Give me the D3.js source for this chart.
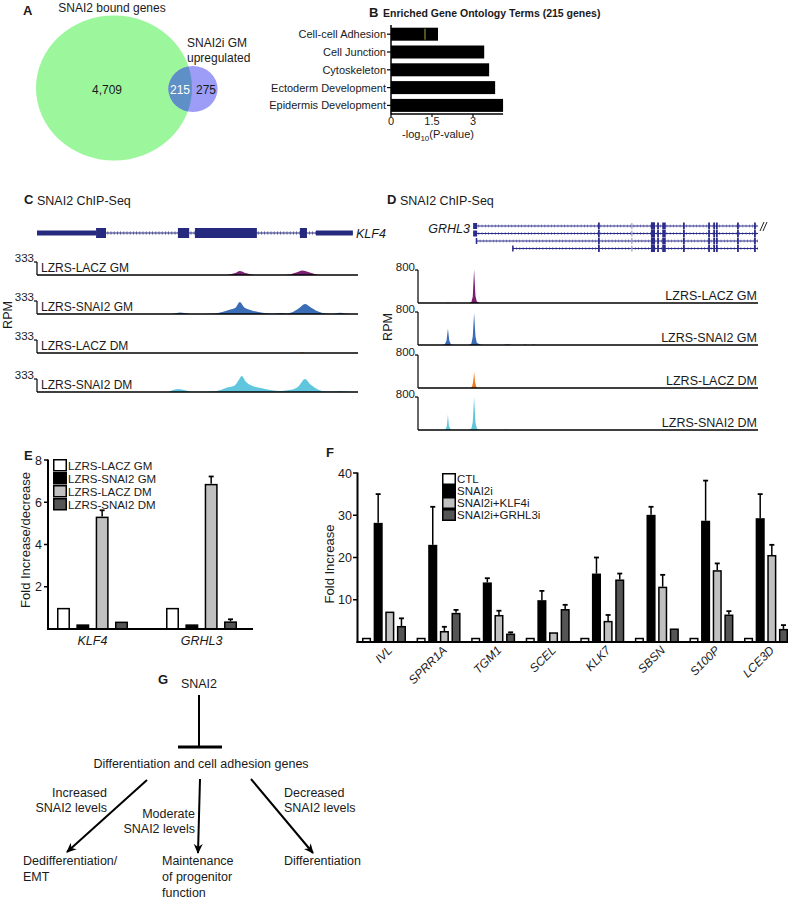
<!DOCTYPE html>
<html><head><meta charset="utf-8">
<script src="https://cdn.jsdelivr.net/npm/d3@7"></script>
<style>
body{margin:0;background:#fff}
svg{display:block}
text{font-family:"Liberation Sans",Arial,Helvetica,sans-serif;fill:#1a1a1a}
</style></head>
<body><svg id="c" width="795" height="900"></svg>
<script>
// ---------------- DATA ----------------
const vennLabels = ["SNAI2 bound genes", "SNAI2i GM", "upregulated"];
const vennCounts = [4709, 215, 275]; // only bound, both, only upregulated

const goTerms = ["Cell-cell Adhesion", "Cell Junction", "Cytoskeleton", "Ectoderm Development", "Epidermis Development"];
const goValues = [1.72, 3.41, 3.59, 3.81, 4.10];
const goTicks = [0, 1.5, 3];

const trackNames = ["LZRS-LACZ GM", "LZRS-SNAI2 GM", "LZRS-LACZ DM", "LZRS-SNAI2 DM"];
const trackColors = ["#7b1f72", "#3b6db6", "#f07b1f", "#5fc6de"];

// KLF4 locus (genomic position 0..1000), RPM signal points [pos, rpm]
const klf4Utr = [[0, 184], [869, 984]];
const klf4Exons = [[184, 215], [439, 474], [492, 685], [819, 841]];
const klf4Max = 333;
const klf4LaczGM = [[0,0],[580,0],[600,15],[618,50],[632,100],[646,60],[665,20],[685,0],[770,0],[790,20],[810,70],[826,115],[845,75],[865,25],[885,0],[1000,0]];
const klf4Snai2GM = [[0,0],[420,0],[435,25],[445,38],[460,25],[478,0],[520,0],[555,10],[580,55],[600,110],[618,160],[632,307],[645,175],[665,105],[690,50],[715,20],[735,8],[750,22],[765,28],[780,15],[795,45],[815,140],[835,256],[852,175],[870,85],[890,25],[910,5],[930,15],[945,32],[960,12],[980,0],[1000,0]];
const klf4LaczDM = [[0,0],[818,0],[826,18],[834,0],[1000,0]];
const klf4Snai2DM = [[0,0],[405,0],[422,45],[438,77],[455,55],[475,15],[500,5],[540,12],[570,45],[595,120],[615,160],[628,300],[638,410],[650,270],[670,160],[700,95],[730,45],[760,28],[790,55],[815,150],[835,333],[852,190],[875,65],[900,15],[930,10],[945,28],[965,10],[985,0],[1000,0]];
const klf4Signals = [klf4LaczGM, klf4Snai2GM, klf4LaczDM, klf4Snai2DM];

// GRHL3 locus (genomic position 0..1000)
const grhl3Starts = [168, 168, 172, 279];
const grhl3End = 1000;
const grhl3Exons = [532, 688, 694, 706, 721, 726, 782, 856, 871, 879, 941, 991];
const grhl3AltExon = 629;
const grhl3Max = 800;
const grhl3LaczGM = [[0,0],[84,0],[88,10],[92,0],[150,0],[157,25],[161,150],[165,820],[169,170],[173,35],[181,0],[1000,0]];
const grhl3Snai2GM = [[0,0],[70,0],[79,20],[84,110],[88,400],[92,110],[97,15],[106,0],[150,0],[157,35],[161,200],[165,775],[169,210],[173,55],[182,10],[192,0],[252,0],[262,18],[272,6],[280,0],[308,0],[316,10],[322,0],[333,0],[340,12],[347,0],[1000,0]];
const grhl3LaczDM = [[0,0],[154,0],[159,35],[162,140],[165,390],[168,140],[171,35],[176,0],[1000,0]];
const grhl3Snai2DM = [[0,0],[74,0],[81,20],[85,95],[88,370],[91,95],[96,15],[102,0],[150,0],[157,35],[161,190],[165,800],[169,190],[173,35],[182,0],[250,0],[260,10],[270,0],[1000,0]];
const grhl3Signals = [grhl3LaczGM, grhl3Snai2GM, grhl3LaczDM, grhl3Snai2DM];

// Panel E
const eGenes = ["KLF4", "GRHL3"];
const eSeries = ["LZRS-LACZ GM", "LZRS-SNAI2 GM", "LZRS-LACZ DM", "LZRS-SNAI2 DM"];
const eValues = [[1.0, 0.22, 5.32, 0.35], [1.0, 0.22, 6.87, 0.36]];
const eErrors = [[0, 0, 0.3, 0], [0, 0, 0.35, 0.1]];
const eTicks = [2, 4, 6, 8];

// Panel F
const fGenes = ["IVL", "SPRR1A", "TGM1", "SCEL", "KLK7", "SBSN", "S100P", "LCE3D"];
const fSeries = ["CTL", "SNAI2i", "SNAI2i+KLF4i", "SNAI2i+GRHL3i"];
const fCTL = [1, 1, 1, 1, 1, 1, 1, 1];
const fSNAI2i = [28.2, 23.0, 14.1, 9.9, 16.2, 30.1, 28.7, 29.3];
const fKLF4i = [7.2, 2.6, 6.4, 2.3, 5.0, 13.1, 17.0, 20.6];
const fGRHL3i = [3.8, 6.9, 2.0, 7.8, 14.8, 3.2, 6.5, 3.1];
const fCTLErr = [0, 0, 0, 0, 0, 0, 0, 0];
const fSNAI2iErr = [6.8, 9.0, 1.0, 2.2, 3.8, 1.9, 9.5, 5.7];
const fKLF4iErr = [0, 1.0, 1.0, 0, 1.4, 2.8, 1.6, 2.4];
const fGRHL3iErr = [1.8, 0.7, 0.3, 1.0, 1.4, 0, 0.8, 0.9];
const fTicks = [10, 20, 30, 40];

const barFills = ["#ffffff", "#000000", "#c0c0c0", "#555555"];

// ---------------- DRAW ----------------
const svg = d3.select("#c");
const defs = svg.append("defs");

function label(g, x, y, s, o = {}) {
  const t = g.append("text").attr("x", x).attr("y", y).text(s)
    .attr("font-size", o.size || 12);
  if (o.anchor) t.attr("text-anchor", o.anchor);
  if (o.weight) t.attr("font-weight", o.weight);
  if (o.italic) t.attr("font-style", "italic");
  if (o.fill) t.style("fill", o.fill);
  if (o.rotate !== undefined) t.attr("transform", `rotate(${o.rotate},${x},${y})`);
  return t;
}
function line(g, x1, y1, x2, y2, w = 1, c = "#000") {
  return g.append("line").attr("x1", x1).attr("y1", y1).attr("x2", x2).attr("y2", y2)
    .attr("stroke", c).attr("stroke-width", w);
}

// ===== Panel A: Venn =====
(function () {
  const g = svg.append("g");
  const r = d3.scaleSqrt().domain([0, vennCounts[0] + vennCounts[1]]).range([0, 78]);
  const asp = 0.93;
  const rG = r(vennCounts[0] + vennCounts[1]), rB = r(vennCounts[1] + vennCounts[2]);
  const cG = [114, 88], cB = [193, 89];
  defs.append("clipPath").attr("id", "clipG").append("ellipse")
    .attr("cx", cG[0]).attr("cy", cG[1]).attr("rx", rG).attr("ry", rG * asp);
  g.append("ellipse").attr("cx", cG[0]).attr("cy", cG[1]).attr("rx", rG).attr("ry", rG * asp).attr("fill", "#9cf79c");
  g.append("ellipse").attr("cx", cB[0]).attr("cy", cB[1]).attr("rx", rB).attr("ry", rB * asp).attr("fill", "#9d9df8");
  g.append("ellipse").attr("cx", cB[0]).attr("cy", cB[1]).attr("rx", rB).attr("ry", rB * asp).attr("fill", "#5e8fc6").attr("clip-path", "url(#clipG)");
  const fmt = d3.format(",");
  label(g, 107, 94, fmt(vennCounts[0]), { anchor: "middle" });
  label(g, 180, 94, fmt(vennCounts[1]), { anchor: "middle", fill: "#fff" });
  label(g, 206, 94, fmt(vennCounts[2]), { anchor: "middle" });
  label(g, 23, 15, "A", { size: 13, weight: "bold" });
  label(g, 112, 12, vennLabels[0], { anchor: "middle" });
  label(g, 187, 47, vennLabels[1]);
  label(g, 187, 62, vennLabels[2]);
})();

// ===== Panel B: GO bars =====
(function () {
  const g = svg.append("g");
  const x = d3.scaleLinear().domain([0, 3]).range([391, 473]);
  const y = d3.scaleBand().domain(goTerms).range([27.7, 111.9]).paddingInner(0.27);
  label(g, 369, 17, "B", { size: 13, weight: "bold" });
  label(g, 383, 17, "Enriched Gene Ontology Terms (215 genes)", { size: 10.5, weight: "bold" });
  g.selectAll("rect.go").data(goTerms).join("rect")
    .attr("x", x(0)).attr("y", d => y(d)).attr("height", y.bandwidth())
    .attr("width", (d, i) => x(goValues[i]) - x(0)).attr("fill", "#000");
  line(g, x(0) + 34, y(goTerms[0]) + 1, x(0) + 34, y(goTerms[0]) + 12, 1, "#a8a830");
  line(g, x(0), 25, x(0), 114.5, 1.5);
  line(g, x(0), 114, x(4.1), 114, 1.5);
  goTerms.forEach(t => {
    const cy = y(t) + y.bandwidth() / 2;
    line(g, x(0) - 4, cy, x(0), cy, 1.2);
    label(g, x(0) - 5, cy + 4, t, { size: 11, anchor: "end" });
  });
  goTicks.forEach(t => {
    line(g, x(t), 114, x(t), 117, 1.2);
    label(g, x(t), 124.5, String(t), { size: 11, anchor: "middle" });
  });
  const tt = g.append("text").attr("x", 438).attr("y", 137.5).attr("text-anchor", "middle").attr("font-size", 11);
  tt.append("tspan").text("-log");
  tt.append("tspan").text("10").attr("font-size", 8).attr("dy", 3);
  tt.append("tspan").text("(P-value)").attr("dy", -3);
})();

// ===== Panel C: KLF4 ChIP tracks =====
(function () {
  const g = svg.append("g");
  const gc = "#262a7e";
  const x = d3.scaleLinear().domain([0, 1000]).range([37, 358]);
  label(g, 24, 204, "C", { size: 13, weight: "bold" });
  label(g, 37, 205, "SNAI2 ChIP-Seq", { size: 12.5 });
  const gy = 233;
  line(g, x(0), gy, x(984), gy, 1, gc);
  g.append("line").attr("x1", x(0)).attr("x2", x(984)).attr("y1", gy).attr("y2", gy)
    .attr("stroke", gc).attr("stroke-width", 3.5).attr("stroke-dasharray", "0.8,2.4").attr("opacity", 0.7);
  klf4Utr.forEach(u => g.append("rect").attr("x", x(u[0])).attr("width", x(u[1]) - x(u[0])).attr("y", gy - 2.5).attr("height", 5).attr("fill", gc));
  klf4Exons.forEach(u => g.append("rect").attr("x", x(u[0])).attr("width", x(u[1]) - x(u[0])).attr("y", gy - 5).attr("height", 10).attr("fill", gc));
  label(g, 356, 238, "KLF4", { size: 12.5, italic: true });

  const baselines = [275, 314, 353, 392];
  const H = 13;
  klf4Signals.forEach((sig, i) => {
    const b = baselines[i];
    const y = d3.scaleLinear().domain([0, klf4Max]).range([b, b - H]);
    const area = d3.area().x(d => x(d[0])).y0(b).y1(d => y(d[1])).curve(d3.curveMonotoneX);
    g.append("path").datum(sig).attr("d", area).attr("fill", trackColors[i]);
    line(g, x(0), y(klf4Max), x(0), b, 1.2);
    line(g, x(0) - 3, y(klf4Max), x(0), y(klf4Max), 1.2);
    line(g, x(0), b, x(1000), b, 1.3);
    label(g, x(0) - 3, y(klf4Max), String(klf4Max), { size: 11.5, anchor: "end" });
    label(g, 41, b - 3, trackNames[i], { size: 12 });
  });
  label(g, 12, 315, "RPM", { size: 12.5, anchor: "middle", rotate: -90 });
})();

// ===== Panel D: GRHL3 ChIP tracks =====
(function () {
  const g = svg.append("g");
  const gc = "#2b2b8c";
  const x = d3.scaleLinear().domain([0, 1000]).range([418, 758]);
  label(g, 387, 204, "D", { size: 13, weight: "bold" });
  label(g, 400, 205, "SNAI2 ChIP-Seq", { size: 12.5 });
  label(g, 470, 233, "GRHL3", { size: 12.5, italic: true, anchor: "end" });
  const ty = [226, 233.5, 241, 248.5];
  grhl3Starts.forEach((s, i) => {
    const yy = ty[i];
    line(g, x(s), yy, x(grhl3End), yy, 1, gc);
    g.append("line").attr("x1", x(s)).attr("x2", x(grhl3End)).attr("y1", yy).attr("y2", yy)
      .attr("stroke", gc).attr("stroke-width", 3).attr("stroke-dasharray", "0.7,2.6").attr("opacity", 0.6);
    if (i < 2) g.append("rect").attr("x", x(s) - 2).attr("y", yy - 3).attr("width", 4).attr("height", 6).attr("fill", gc);
    else line(g, x(s), yy - 3, x(s), yy + 3, 1.5, gc);
    grhl3Exons.filter(e => e > s).forEach(e => {
      g.append("rect").attr("x", x(e) - 0.9).attr("y", yy - 3.5).attr("width", 1.8).attr("height", 7).attr("fill", gc);
    });
    g.append("rect").attr("x", x(grhl3Exons[1]) - 1).attr("y", yy - 3.5).attr("width", x(grhl3Exons[2]) - x(grhl3Exons[1]) + 2).attr("height", 7).attr("fill", gc);
    g.append("rect").attr("x", x(grhl3AltExon) - 0.6).attr("y", yy - 3).attr("width", 1.2).attr("height", 6).attr("fill", "#a0a0d0");
  });
  line(g, x(1000) + 2, 231, x(1000) + 6, 222, 1, "#222");
  line(g, x(1000) + 5, 231, x(1000) + 9, 222, 1, "#222");

  const baselines = [303, 345, 388, 430];
  const H = 33;
  grhl3Signals.forEach((sig, i) => {
    const b = baselines[i];
    const y = d3.scaleLinear().domain([0, grhl3Max]).range([b, b - H]);
    const area = d3.area().x(d => x(d[0])).y0(b).y1(d => y(d[1])).curve(d3.curveLinear);
    g.append("path").datum(sig).attr("d", area).attr("fill", trackColors[i]);
    line(g, x(0), y(grhl3Max), x(0), b, 1.2);
    line(g, x(0) - 3, y(grhl3Max), x(0), y(grhl3Max), 1.2);
    line(g, x(0), b, x(1000), b, 1.3);
    label(g, x(0) - 3, y(grhl3Max) + 1, String(grhl3Max), { size: 11.5, anchor: "end" });
    label(g, 757, b - 3, trackNames[i], { size: 12.5, anchor: "end" });
  });
  label(g, 392, 327, "RPM", { size: 12.5, anchor: "middle", rotate: -90 });
})();

// ===== helper for grouped bars =====
function groupedBars(g, x0, x1, y, cats, valuesByCat, errsByCat) {
  cats.forEach((c, ci) => {
    valuesByCat[ci].forEach((v, si) => {
      const bx = x0(c) + x1(si);
      const top = y(v), base = y(0);
      const e = errsByCat[ci][si];
      if (e > 0) {
        const cx = bx + x1.bandwidth() / 2;
        line(g, cx, y(v + e), cx, top, 1.5);
        line(g, cx - 2.5, y(v + e), cx + 2.5, y(v + e), 1.8);
      }
      g.append("rect").attr("x", bx + 0.75).attr("y", top + 0.75)
        .attr("width", x1.bandwidth() - 1.5).attr("height", Math.max(0, base - top - 0.75))
        .attr("fill", barFills[si]).attr("stroke", "#000").attr("stroke-width", 1.5);
    });
  });
}

// ===== Panel E =====
(function () {
  const g = svg.append("g");
  const y = d3.scaleLinear().domain([0, 8]).range([629, 460]);
  const x0 = d3.scaleBand().domain(eGenes).range([57, 237]).paddingInner(0.349).paddingOuter(0);
  const x1 = d3.scaleBand().domain(d3.range(eSeries.length)).range([0, x0.bandwidth()]).paddingInner(0.33);
  groupedBars(g, x0, x1, y, eGenes, eValues, eErrors);
  line(g, 48, y(8) - 0.5, 48, y(0) + 1, 2);
  line(g, 47, y(0), 253, y(0), 2);
  eTicks.forEach(t => {
    line(g, 44, y(t), 48, y(t), 1.5);
    label(g, 42, y(t) + 4.5, String(t), { size: 12.5, anchor: "end" });
  });
  eGenes.forEach(c => label(g, x0(c) + x0.bandwidth() / 2, 645, c, { size: 12.5, italic: true, anchor: "middle" }));
  label(g, 30, 540, "Fold Increase/decrease", { size: 13, anchor: "middle", rotate: -90 });
  label(g, 24, 460, "E", { size: 13, weight: "bold" });
  eSeries.forEach((s, i) => {
    const ly = 459 + i * 13;
    g.append("rect").attr("x", 53.75).attr("y", ly + 0.75).attr("width", 12.5).attr("height", 11)
      .attr("fill", barFills[i]).attr("stroke", "#000").attr("stroke-width", 1.5);
    label(g, 68, ly + 10.5, s, { size: 11.5 });
  });
})();

// ===== Panel F =====
(function () {
  const g = svg.append("g");
  const y = d3.scaleLinear().domain([0, 40]).range([642, 473]);
  const x0 = d3.scaleBand().domain(fGenes).range([362, 788]).paddingInner(0.194).paddingOuter(0);
  const x1 = d3.scaleBand().domain(d3.range(fSeries.length)).range([0, x0.bandwidth()]).paddingInner(0.22);
  const vals = fGenes.map((_, i) => [fCTL[i], fSNAI2i[i], fKLF4i[i], fGRHL3i[i]]);
  const errs = fGenes.map((_, i) => [fCTLErr[i], fSNAI2iErr[i], fKLF4iErr[i], fGRHL3iErr[i]]);
  groupedBars(g, x0, x1, y, fGenes, vals, errs);
  line(g, 357.5, y(40) - 0.5, 357.5, y(0) + 1, 2);
  line(g, 356.5, y(0), 788, y(0), 2.2);
  fTicks.forEach(t => {
    line(g, 353, y(t), 357.5, y(t), 1.5);
    label(g, 352, y(t) + 4.5, String(t), { size: 12.5, anchor: "end" });
  });
  fGenes.forEach(c => {
    const cx = x0(c) + x0.bandwidth() / 2 + 9;
    label(g, cx, 651, c, { size: 12, italic: true, anchor: "end", rotate: -45 });
  });
  label(g, 334, 564, "Fold Increase", { size: 13, anchor: "middle", rotate: -90 });
  label(g, 326, 457, "F", { size: 13, weight: "bold" });
  fSeries.forEach((s, i) => {
    const ly = 473 + i * 12;
    g.append("rect").attr("x", 442.75).attr("y", ly + 0.75).attr("width", 12.5).attr("height", 10.5)
      .attr("fill", barFills[i]).attr("stroke", "#000").attr("stroke-width", 1.5);
    label(g, 457, ly + 10, s, { size: 11.5 });
  });
})();

// ===== Panel G: model =====
(function () {
  const g = svg.append("g");
  defs.append("marker").attr("id", "ah").attr("viewBox", "0 0 10 10").attr("refX", 9).attr("refY", 5)
    .attr("markerWidth", 5).attr("markerHeight", 5).attr("orient", "auto-start-reverse")
    .append("path").attr("d", "M0,0.5 L10,5 L0,9.5 L3,5 Z").attr("fill", "#000");
  label(g, 158, 684, "G", { size: 13, weight: "bold" });
  label(g, 199, 688, "SNAI2", { size: 12.5, anchor: "middle" });
  line(g, 199, 695, 199, 747, 2);
  line(g, 178, 747, 222, 747, 3);
  label(g, 201, 768, "Differentiation and cell adhesion genes", { size: 12.5, anchor: "middle" });
  const arrows = [[147, 780, 67, 852], [200, 779, 198, 853], [251, 779, 313, 853]];
  arrows.forEach(a => line(g, a[0], a[1], a[2], a[3], 2).attr("marker-end", "url(#ah)"));
  label(g, 107, 797, "Increased", { size: 12.5, anchor: "end" });
  label(g, 107, 812, "SNAI2 levels", { size: 12.5, anchor: "end" });
  label(g, 195, 818, "Moderate", { size: 12.5, anchor: "end" });
  label(g, 195, 833, "SNAI2 levels", { size: 12.5, anchor: "end" });
  label(g, 284, 797, "Decreased", { size: 12.5 });
  label(g, 284, 812, "SNAI2 levels", { size: 12.5 });
  label(g, 23, 865, "Dedifferentiation/", { size: 12.5 });
  label(g, 23, 881, "EMT", { size: 12.5 });
  label(g, 162, 865, "Maintenance", { size: 12.5 });
  label(g, 162, 881, "of progenitor", { size: 12.5 });
  label(g, 162, 897, "function", { size: 12.5 });
  label(g, 284, 865, "Differentiation", { size: 12.5 });
})();
</script></body></html>
